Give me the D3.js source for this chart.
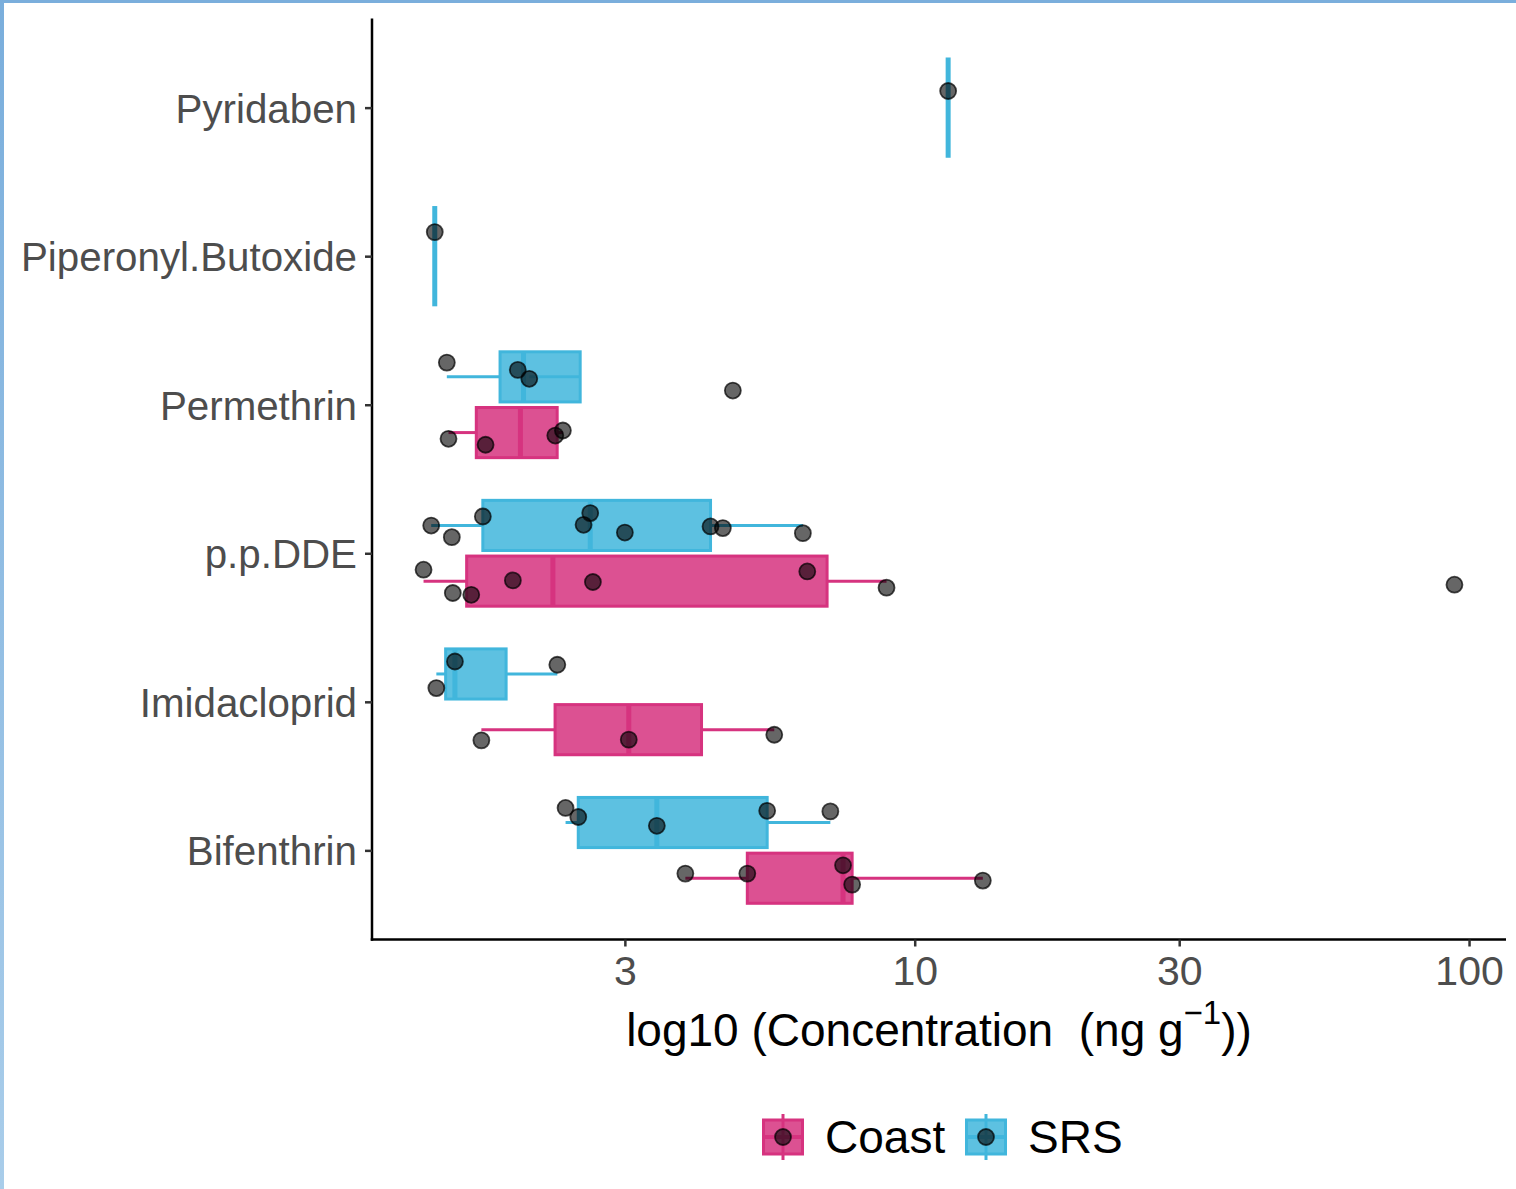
<!DOCTYPE html>
<html><head><meta charset="utf-8">
<script src="https://cdn.jsdelivr.net/npm/d3@7"></script>
<style>body{margin:0;background:#fff;} svg{display:block;}</style>
</head><body>
<svg id="chart" width="1516" height="1189"></svg>
<script>
// ---------------- data ----------------
const categories = ["Pyridaben", "Piperonyl.Butoxide", "Permethrin", "p.p.DDE", "Imidacloprid", "Bifenthrin"];
const groups = ["Coast", "SRS"];
const xTickValues = [3, 10, 30, 100];

// concentrations (ng g-1) per compound and site
const pyridabenSRS      = [11.49];
const piperonylSRS      = [1.362];
const permethrinSRS     = [1.432, 1.923, 2.017, 4.698];
const permethrinCoast   = [1.442, 1.682, 2.247, 2.319];
const ddeSRS            = [1.342, 1.462, 1.663, 2.598, 2.527, 3.000, 4.282, 4.507, 6.284];
const ddeCoast          = [1.300, 1.468, 1.585, 1.884, 2.627, 6.400, 8.895, 94.12];
const imidaclopridSRS   = [1.371, 1.481, 2.266];
const imidaclopridCoast = [1.653, 3.049, 5.580];
const bifenthrinSRS     = [2.345, 2.472, 3.426, 5.418, 7.044];
const bifenthrinCoast   = [3.857, 4.989, 7.425, 7.711, 13.27];

// vertical jitter of each point (in category units)
const pyridabenSRSJit      = [-0.112];
const piperonylSRSJit      = [-0.162];
const permethrinSRSJit     = [-0.096, -0.047, 0.013, 0.092];
const permethrinCoastJit   = [0.042, 0.082, 0.020, -0.014];
const ddeSRSJit            = [0.001, 0.079, -0.060, -0.083, -0.004, 0.048, 0.007, 0.018, 0.052];
const ddeCoastJit          = [-0.077, 0.080, 0.092, -0.005, 0.006, -0.065, 0.044, 0.024];
const imidaclopridSRSJit   = [0.095, -0.084, -0.062];
const imidaclopridCoastJit = [0.072, 0.067, 0.034];
const bifenthrinSRSJit     = [-0.098, -0.037, 0.022, -0.079, -0.075];
const bifenthrinCoastJit   = [-0.031, -0.031, -0.087, 0.043, 0.016];

const seriesTable = [
  {cat: "Pyridaben", group: "SRS", values: pyridabenSRS, jit: pyridabenSRSJit},
  {cat: "Piperonyl.Butoxide", group: "SRS", values: piperonylSRS, jit: piperonylSRSJit},
  {cat: "Permethrin", group: "SRS", values: permethrinSRS, jit: permethrinSRSJit},
  {cat: "Permethrin", group: "Coast", values: permethrinCoast, jit: permethrinCoastJit},
  {cat: "p.p.DDE", group: "SRS", values: ddeSRS, jit: ddeSRSJit},
  {cat: "p.p.DDE", group: "Coast", values: ddeCoast, jit: ddeCoastJit},
  {cat: "Imidacloprid", group: "SRS", values: imidaclopridSRS, jit: imidaclopridSRSJit},
  {cat: "Imidacloprid", group: "Coast", values: imidaclopridCoast, jit: imidaclopridCoastJit},
  {cat: "Bifenthrin", group: "SRS", values: bifenthrinSRS, jit: bifenthrinSRSJit},
  {cat: "Bifenthrin", group: "Coast", values: bifenthrinCoast, jit: bifenthrinCoastJit}
];

// ---------------- styles ----------------
const strokeCol = {Coast: "#d6337f", SRS: "#41b6dc"};
const FONT = "'Liberation Sans', Arial, Helvetica, sans-serif";
const PT_R = 8;

const svg = d3.select("#chart");

// frame of the screenshot
const defs = svg.append("defs");
const grad = defs.append("linearGradient").attr("id", "edge").attr("x1", 0).attr("y1", 0).attr("x2", 0).attr("y2", 1);
grad.append("stop").attr("offset", "0%").attr("stop-color", "#7aaedc");
grad.append("stop").attr("offset", "100%").attr("stop-color", "#a9cdea");
svg.append("rect").attr("x", 0).attr("y", 0).attr("width", 1516).attr("height", 3).attr("fill", "#7aaedc");
svg.append("rect").attr("x", 0).attr("y", 0).attr("width", 4).attr("height", 1189).attr("fill", "url(#edge)");

// ---------------- scales ----------------
const panel = {left: 372, right: 1506, top: 18.5, bottom: 939.5};
const allVals = seriesTable.flatMap(s => s.values);
const lmin = Math.log10(d3.min(allVals)), lmax = Math.log10(d3.max(allVals));
const ex = (lmax - lmin) * 0.05;
const x = d3.scaleLog().domain([Math.pow(10, lmin - ex), Math.pow(10, lmax + ex)]).range([panel.left, panel.right]);
const y = d3.scalePoint().domain(categories).range([panel.top, panel.bottom]).padding(0.6);
const step = y.step();

const groupsIn = d3.rollup(seriesTable, v => v.length, d => d.cat);
function dodge(d) {
  if (groupsIn.get(d.cat) === 1) return {off: 0, h: 0.75 * 0.9 * step};
  return {off: (d.group === "SRS" ? -1 : 1) * 0.1875 * step, h: 0.75 * 0.5 * 0.9 * step};
}

// box stats (Tukey) on log10 values
function stats(vals) {
  const l = vals.map(v => Math.log10(v)).sort(d3.ascending);
  const q1 = d3.quantile(l, 0.25), med = d3.quantile(l, 0.5), q3 = d3.quantile(l, 0.75);
  const iqr = q3 - q1;
  const inside = l.filter(v => v >= q1 - 1.5 * iqr && v <= q3 + 1.5 * iqr);
  return {q1, med, q3, lo: d3.min(inside), hi: d3.max(inside)};
}
const xl = lv => x(Math.pow(10, lv));

// ---------------- boxes ----------------
const gBox = svg.append("g");
seriesTable.forEach(s => {
  const st = stats(s.values);
  const dg = dodge(s);
  const cy = y(s.cat) + dg.off;
  const col = strokeCol[s.group];
  const g = gBox.append("g");
  g.append("line").attr("x1", xl(st.lo)).attr("x2", xl(st.q1)).attr("y1", cy).attr("y2", cy)
    .attr("stroke", col).attr("stroke-width", 3);
  g.append("line").attr("x1", xl(st.q3)).attr("x2", xl(st.hi)).attr("y1", cy).attr("y2", cy)
    .attr("stroke", col).attr("stroke-width", 3);
  g.append("rect").attr("x", xl(st.q1)).attr("width", Math.max(0, xl(st.q3) - xl(st.q1)))
    .attr("y", cy - dg.h / 2).attr("height", dg.h)
    .attr("fill", col).attr("fill-opacity", 0.85).attr("stroke", col).attr("stroke-width", 3);
  g.append("line").attr("x1", xl(st.med)).attr("x2", xl(st.med)).attr("y1", cy - dg.h / 2).attr("y2", cy + dg.h / 2)
    .attr("stroke", col).attr("stroke-width", 5);
});

// ---------------- points ----------------
const pts = seriesTable.flatMap(s => s.values.map((v, i) => ({v, cat: s.cat, group: s.group, j: s.jit[i], dg: dodge(s)})));
svg.append("g").selectAll("circle").data(pts).join("circle")
  .attr("cx", d => x(d.v))
  .attr("cy", d => y(d.cat) + d.dg.off + d.j * step)
  .attr("r", PT_R)
  .attr("fill", "rgba(0,0,0,0.6)")
  .attr("stroke", "rgba(0,0,0,0.7)")
  .attr("stroke-width", 1.8);

// ---------------- axes ----------------
const xAxis = svg.append("g").attr("transform", `translate(0,${panel.bottom})`)
  .call(d3.axisBottom(x).tickValues(xTickValues).tickFormat(d3.format("d")).tickSize(7).tickSizeOuter(0).tickPadding(9));
const yAxis = svg.append("g").attr("transform", `translate(${panel.left},0)`)
  .call(d3.axisLeft(y).tickSize(7).tickSizeOuter(0).tickPadding(8));
[xAxis, yAxis].forEach(a => {
  a.select(".domain").attr("stroke", "#000").attr("stroke-width", 2.5);
  a.selectAll(".tick line").attr("stroke", "#333").attr("stroke-width", 2.5);
  a.selectAll(".tick text").attr("fill", "#4d4d4d").style("font-family", FONT);
});
xAxis.selectAll(".tick text").style("font-size", "41px");
yAxis.selectAll(".tick text").style("font-size", "40.3px").attr("dy", "0.36em");
// make axis lines meet at the corner
xAxis.select(".domain").attr("d", `M${panel.left - 1.25},0H${panel.right}`);
yAxis.select(".domain").attr("d", `M0,${panel.top}V${panel.bottom + 1.25}`);

// axis title
const title = svg.append("text").attr("x", (panel.left + panel.right) / 2).attr("y", 1046)
  .attr("text-anchor", "middle").attr("fill", "#000")
  .style("font-family", FONT).style("font-size", "46px").style("white-space", "pre");
title.append("tspan").text("log10 (Concentration  (ng g");
title.append("tspan").attr("dy", -22).style("font-size", "33px").text("\u22121");
title.append("tspan").attr("dy", 22).text("))");

// ---------------- legend ----------------
const legendItems = [{g: "Coast", kx: 783, tx: 825}, {g: "SRS", kx: 986, tx: 1028}];
const ly = 1137;
legendItems.forEach(it => {
  const col = strokeCol[it.g];
  const k = svg.append("g");
  k.append("line").attr("x1", it.kx).attr("x2", it.kx).attr("y1", ly - 23).attr("y2", ly + 23)
    .attr("stroke", col).attr("stroke-width", 3);
  k.append("rect").attr("x", it.kx - 19.5).attr("y", ly - 17).attr("width", 39).attr("height", 34)
    .attr("fill", col).attr("fill-opacity", 0.85).attr("stroke", col).attr("stroke-width", 3);
  k.append("line").attr("x1", it.kx - 19.5).attr("x2", it.kx + 19.5).attr("y1", ly).attr("y2", ly)
    .attr("stroke", col).attr("stroke-width", 4);
  k.append("circle").attr("cx", it.kx).attr("cy", ly).attr("r", PT_R)
    .attr("fill", "rgba(0,0,0,0.6)").attr("stroke", "rgba(0,0,0,0.7)").attr("stroke-width", 1.8);
  svg.append("text").attr("x", it.tx).attr("y", ly + 16).attr("fill", "#000")
    .style("font-family", FONT).style("font-size", "46px").text(it.g);
});
</script>
</body></html>
